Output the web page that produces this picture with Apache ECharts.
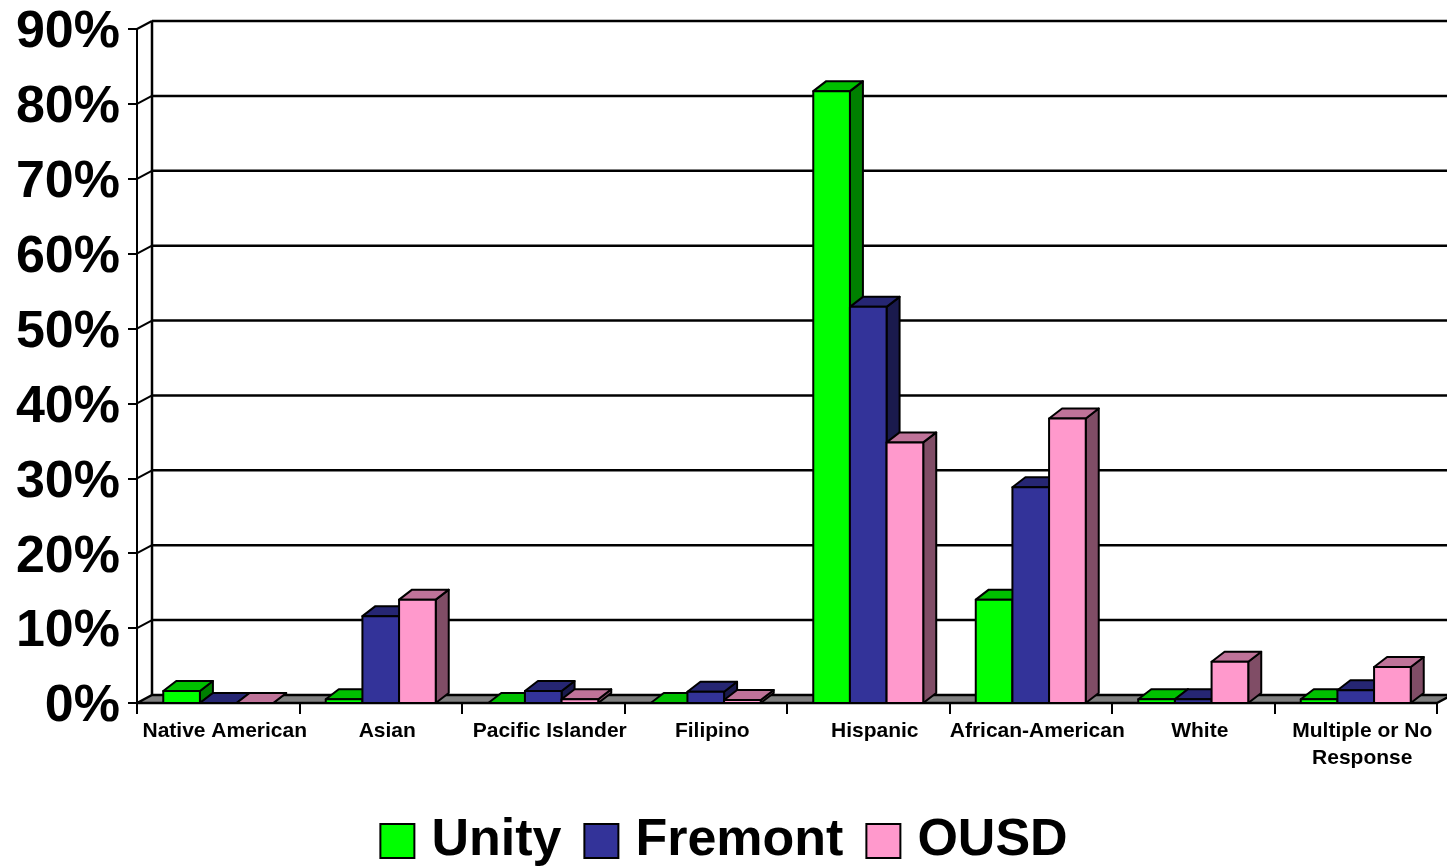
<!DOCTYPE html>
<html>
<head>
<meta charset="utf-8">
<script src="https://cdn.jsdelivr.net/npm/echarts@6/dist/echarts.min.js"></script>
<style>
html,body{margin:0;padding:0;background:#fff;}
#chart{width:1447px;height:868px;}
</style>
</head>
<body>
<div id="chart"></div>
<script>
const categories = ['Native American','Asian','Pacific Islander','Filipino','Hispanic','African-American','White','Multiple or No\nResponse'];
const unity   = [1.6, 0.5, 0,   0,   81.7, 13.8, 0.5, 0.5];
const fremont = [0,   11.6, 1.6, 1.5, 52.9, 28.8, 0.5, 1.7];
const ousd    = [0,   13.8, 0.5, 0.4, 34.8, 38.0, 5.5, 4.8];
const seriesNames = ['Unity','Fremont','OUSD'];
const yTicks = [0,10,20,30,40,50,60,70,80,90];

const FONT = '"Liberation Sans", Arial, sans-serif';
const WALL_DX = 15, WALL_DY = -8;
const BAR_DX = 13, BAR_DY = -10;

const palettes = [
  {front:'#00FF00', top:'#00C000', side:'#008000'},
  {front:'#333399', top:'#262673', side:'#1A1A4D'},
  {front:'#FF99CC', top:'#BF7399', side:'#804D66'}
];

function barRenderer(si){
  const p = palettes[si];
  return function(params, api){
    const idx = api.value(0), v = api.value(1);
    const base = api.coord([idx, 0]);
    const top = api.coord([idx, v]);
    const cw = api.size([1, 0])[0];
    const bw = cw * 0.2256;
    const x0 = base[0] - 1.5 * bw + si * bw;
    const x1 = x0 + bw;
    const yb = base[1], yt = top[1];
    const st = {stroke:'#000', lineWidth:2, lineJoin:'round'};
    return {type:'group', children:[
      {type:'polygon', shape:{points:[[x1,yb],[x1+BAR_DX,yb+BAR_DY],[x1+BAR_DX,yt+BAR_DY],[x1,yt]]}, style:Object.assign({fill:p.side}, st)},
      {type:'polygon', shape:{points:[[x0,yt],[x0+BAR_DX,yt+BAR_DY],[x1+BAR_DX,yt+BAR_DY],[x1,yt]]}, style:Object.assign({fill:p.top}, st)},
      {type:'rect', shape:{x:x0, y:yt, width:bw, height:Math.max(yb-yt,0)}, style:Object.assign({fill:p.front}, st)}
    ]};
  };
}

function wallRenderer(params, api){
  const cs = params.coordSys;
  const x = cs.x, y = cs.y, w = cs.width, h = cs.height;
  const children = [];
  const ls = {stroke:'#000', lineWidth:2.5};
  yTicks.forEach(function(t){
    const yt = api.coord([0, t])[1];
    if (t !== 0) {
      children.push({type:'line', shape:{x1:x+WALL_DX, y1:yt+WALL_DY, x2:x+w+WALL_DX+20, y2:yt+WALL_DY}, style:ls});
      children.push({type:'line', shape:{x1:x, y1:yt, x2:x+WALL_DX, y2:yt+WALL_DY}, style:{stroke:'#000', lineWidth:2}});
    }
  });
  children.push({type:'line', shape:{x1:x+WALL_DX, y1:y+WALL_DY, x2:x+WALL_DX, y2:y+h+WALL_DY}, style:ls});
  children.push({type:'polygon', shape:{points:[[x,y+h],[x+w,y+h],[x+w+WALL_DX,y+h+WALL_DY],[x+WALL_DX,y+h+WALL_DY]]},
    style:{fill:'#808080', stroke:'#000', lineWidth:2.5, lineJoin:'round'}});
  return {type:'group', children:children};
}

const chart = echarts.init(document.getElementById('chart'));
const dataSets = [unity, fremont, ousd];

const series = [{
  type:'custom', name:'wall', renderItem:wallRenderer, data:[[0,0]],
  encode:{x:0, y:1}, z:1, silent:true, clip:false
}];
dataSets.forEach(function(arr, si){
  series.push({
    type:'custom', name:seriesNames[si], renderItem:barRenderer(si),
    data: arr.map(function(v, i){ return [i, v]; }),
    encode:{x:0, y:1}, z:2+si, clip:false,
    itemStyle:{color:palettes[si].front}
  });
});

chart.setOption({
  animation:false,
  backgroundColor:'#ffffff',
  grid:{left:137, right:10, top:29, bottom:165, containLabel:false},
  xAxis:{
    type:'category', data:categories, boundaryGap:true,
    axisLine:{show:true, lineStyle:{color:'#000', width:2}},
    axisTick:{show:true, interval:0, length:11, lineStyle:{color:'#000', width:2}},
    axisLabel:{interval:0, color:'#000', fontFamily:FONT, fontWeight:'bold', fontSize:21, lineHeight:27, margin:15, padding:[0,0,0,13]},
    splitLine:{show:false}
  },
  yAxis:{
    type:'value', min:0, max:90, interval:10,
    axisLine:{show:true, lineStyle:{color:'#000', width:2}},
    axisTick:{show:true, length:9, lineStyle:{color:'#000', width:2}},
    axisLabel:{
      formatter:function(v){ return '{a|' + v + '%}'; },
      margin:17,
      rich:{a:{color:'#000', fontFamily:FONT, fontWeight:'bold', fontSize:52, padding:[8,0,0,0]}}
    },
    splitLine:{show:false}
  },
  legend:{
    data:seriesNames, left:'center', top:810,
    icon:'rect', itemWidth:34, itemHeight:34, itemGap:22,
    itemStyle:{borderColor:'#000', borderWidth:2},
    textStyle:{color:'#000', fontFamily:FONT, fontWeight:'bold', fontSize:52, padding:[0,0,0,12]}
  },
  series:series
});
</script>
</body>
</html>
